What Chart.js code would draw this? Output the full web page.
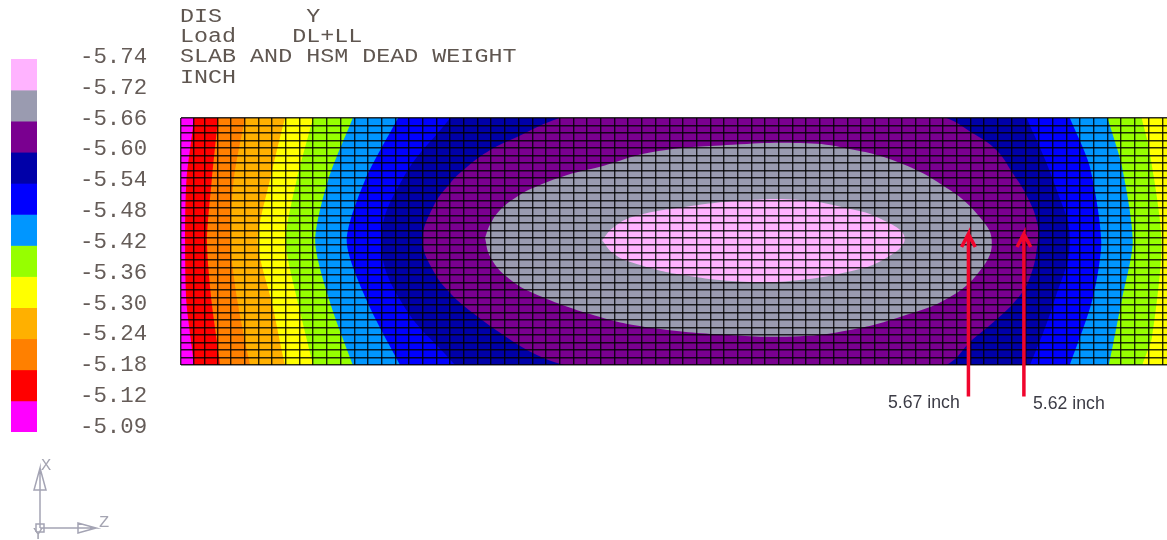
<!DOCTYPE html>
<html><head><meta charset="utf-8">
<script src="https://cdn.jsdelivr.net/npm/chart.js@4/dist/chart.umd.js"></script>
<style>
html,body{margin:0;padding:0;background:#fff;width:1167px;height:540px;overflow:hidden}
canvas{position:absolute;left:0;top:0}
.t{position:absolute;white-space:pre;transform-origin:0 0}
.head{font:20px "Liberation Mono",monospace;color:#5f5650;left:180px;transform:scaleX(1.168)}
.note{font:17.7px "Liberation Sans",Arial,sans-serif;color:#3c3c46}
.tri{font:17px "Liberation Mono",monospace;color:#a5a5b2}
</style></head><body>
<div style="position:absolute;left:0;top:0;width:1167px;height:540px"><canvas id="main"></canvas></div>
<div style="position:absolute;left:0;top:0;width:1167px;height:540px"><canvas id="callouts"></canvas></div>
<div style="position:absolute;left:0;top:0;width:170px;height:540px"><canvas id="key"></canvas></div>
<div style="position:absolute;left:0;top:440px;width:130px;height:100px"><canvas id="triad"></canvas></div>
<div class="t head" style="top:5px">DIS      Y</div>
<div class="t head" style="top:25px">Load    DL+LL</div>
<div class="t head" style="top:45px">SLAB AND HSM DEAD WEIGHT</div>
<div class="t head" style="top:66px">INCH</div>
<div class="t note" style="left:888px;top:392px">5.67 inch</div>
<div class="t note" style="left:1033px;top:393px">5.62 inch</div>
<div class="t tri" style="left:41px;top:456px">X</div>
<div class="t tri" style="left:99px;top:513px">Z</div>
<div class="t tri" style="left:33px;top:525px">Y</div>
<script>
// Colour key
const keyLabels = ['-5.74','-5.72','-5.66','-5.60','-5.54','-5.48','-5.42','-5.36','-5.30','-5.24','-5.18','-5.12','-5.09'];
const keyColors = ['#ffb3ff','#9a9bb0','#7a0090','#0000a8','#0000ff','#0096ff','#96ff00','#ffff00','#ffb000','#ff8000','#ff0000','#ff00ff'];

// Span and width of the slab, in contour units
const spanCols = 72;
const widthRows = 36;
// Mesh: the first lines along the span are uneven, then cells repeat
const meshFirstLines = [0, 0.95, 1.7];
const meshRegularFrom = 2.65;
const meshWidthCells = 33;

// Contour outlines [column,row], outermost band first
const redEdge = [[0.95,38],[0.95,36],[0.4,27],[0.3,18],[0.4,9],[0.95,0],[0.95,-2],[76,-2],[76,38],[0.95,38]];
const darkOrangeEdge = [[2.7,38],[2.7,36],[2.25,27],[1.9,18],[2.25,9],[2.85,0],[2.85,-2],[76,-2],[76,38],[2.7,38]];
const orangeEdge = [[5.1,38],[4.7,36],[3.85,27],[3.6,18],[4.15,9],[5.05,0],[5.4,-2],[76,-2],[76,38],[5.1,38]];
const yellowEdge = [[8,38],[7.6,36],[6.5,27],[5.6,18],[6.65,9],[7.6,0],[8,-2],[76,-2],[76,38],[8,38]];
const greenEdge = [[9.9,38],[9.65,36],[8.45,27],[7.65,18],[8.55,9],[9.65,0],[9.9,-2],[70,-2],[70.2,0],[70.9,4.0],[71.6,18],[70.7,31.5],[70.15,36],[70,38],[9.9,38]];
const lightBlueEdge = [[13,38],[12.55,36],[10.75,27],[9.8,18],[10.9,9],[12.55,0],[13,-2],[67.4,-2],[67.75,0],[68.7,9.5],[69.5,18],[68.7,29],[67.65,36],[67.3,38],[13,38]];
const blueEdge = [[16.4,38],[15.85,36],[13.45,27],[12.1,18],[13.65,9],[16,0],[16.6,-2],[64.4,-2],[64.9,0],[66.55,9.5],[67.2,18],[66.35,29],[64.9,36],[64.4,38],[16.4,38]];
const darkBlueEdge = [[20.4,38],[19.65,36],[16.15,27],[14.65,18],[16.15,9],[20,0],[20.8,-2],[61.4,-2],[62,0],[63.8,9.5],[64.9,18],[63.95,25.5],[61.75,36],[61.2,38],[20.4,38]];
const purpleEdge = [[31,37.4],[27.65,36],[24.5,33.2],[22.55,31.3],[20.9,28.9],[19.65,26.5],[18.4,23],[17.65,18.2],[18.4,13.8],[19.65,10.5],[21.3,7.6],[23.3,4.7],[25.7,1.75],[28,0],[31,-1.2],[53,-1.2],[55.9,0],[57.8,3.7],[59.3,6.2],[61,9.5],[62,12.8],[62.55,17.8],[62.5,20.9],[61.75,24.7],[60.75,27.9],[59.55,31.3],[57.8,33.8],[55.9,36],[53,37.4],[31,37.4]];
const grayEdge = [[22.2,18.5],[22.55,20.4],[23.3,22.6],[24.5,24.5],[25.7,25.8],[28.2,27.7],[30.6,28.9],[34.45,31.05],[40.3,32.1],[45.2,32.35],[48.3,31.7],[52.5,29.45],[56.15,25.5],[58.3,21.6],[59.2,18.2],[58.55,14.3],[56.15,9.9],[52.5,7],[48.85,5.1],[45.2,4.2],[40.3,4.35],[34.45,5.4],[30.6,7],[25.7,10.5],[23.7,13],[22.55,15.9],[22.2,18.5]];
const pinkEdge = [[30.75,18.2],[31.55,20],[33,21.6],[36.65,23],[41.55,24.05],[45.2,24.05],[48.3,23],[51,21.4],[52.85,18.5],[51.25,15.3],[48.3,13.4],[45.2,12.4],[41.55,12.1],[36.65,13.1],[33,14.9],[31.55,16.3],[30.75,18.2]];

const slabOutline = [[-2,38],[-2,-2],[76,-2],[76,38],[-2,38]];
const bands = [
  [slabOutline, 11],[redEdge, 10],[darkOrangeEdge, 9],[orangeEdge, 8],[yellowEdge, 7],
  [greenEdge, 6],[lightBlueEdge, 5],[blueEdge, 4],[darkBlueEdge, 3],[purpleEdge, 2],
  [grayEdge, 1],[pinkEdge, 0]
];

// Callout arrows
const arrowA = [[57.5,-4.6],[57.5,19.1],[57.0,17.2],[57.5,19.1],[58.0,17.2]];
const arrowB = [[61.55,-4.6],[61.55,19.1],[61.05,17.2],[61.55,19.1],[62.05,17.2]];

// Global axis triad
const triadX = [[40,12],[40,72],[34,50],[46,50],[40,72]];
const triadZ = [[40,12],[96,12],[78,17],[78,7],[96,12]];
const triadOrigin = [[36,8],[44,8],[44,16],[36,16],[36,8]];

const pts = a => a.map(p => ({x:p[0], y:p[1]}));
const plotPadding = {left:181,top:118,right:0,bottom:175};

const bandSets = bands.map((b,i) => ({
  data: pts(b[0]), showLine:true, fill:'shape', backgroundColor:keyColors[b[1]],
  borderWidth:0, borderColor:keyColors[b[1]], pointRadius:0, tension:i<8?0.25:0.42,
  capBezierPoints:false, order:100-i
}));

new Chart(document.getElementById('main'), {
  type:'scatter',
  data:{datasets:bandSets},
  options:{
    responsive:true, maintainAspectRatio:false, animation:false,
    layout:{padding:plotPadding},
    plugins:{legend:{display:false},tooltip:{enabled:false}},
    scales:{
      x:{type:'linear',min:0,max:spanCols,
        afterBuildTicks:s=>{
          const t = meshFirstLines.map(v=>({value:v}));
          for (let v = meshRegularFrom; v < spanCols; v += 1) t.push({value:v});
          s.ticks = t;
        },
        ticks:{display:false,autoSkip:false},
        grid:{color:'rgba(0,0,0,.82)',lineWidth:1.4,drawTicks:false,z:1},
        border:{display:false}},
      y:{type:'linear',display:false,min:0,max:widthRows},
      m:{type:'linear',position:'left',min:0,max:meshWidthCells,
        ticks:{display:false,stepSize:1,autoSkip:false},
        grid:{color:'rgba(0,0,0,.82)',lineWidth:1.5,drawTicks:false,z:1},
        border:{display:false}}
    }
  }
});

new Chart(document.getElementById('callouts'), {
  type:'scatter',
  data:{datasets:[arrowA, arrowB].map(a => ({
    data: pts(a), showLine:true, fill:false, borderColor:'#f0052d', borderWidth:3.5,
    pointRadius:0, tension:0, clip:false
  }))},
  options:{
    responsive:true, maintainAspectRatio:false, animation:false,
    layout:{padding:plotPadding},
    plugins:{legend:{display:false},tooltip:{enabled:false}},
    scales:{
      x:{type:'linear',display:false,min:0,max:spanCols},
      y:{type:'linear',display:false,min:0,max:widthRows}
    }
  }
});

new Chart(document.getElementById('key'), {
  type:'bar',
  data:{labels:[''],datasets:keyColors.map(c => ({data:[1],backgroundColor:c,borderWidth:0,barPercentage:1,categoryPercentage:1,stack:'k'}))},
  options:{
    responsive:true, maintainAspectRatio:false, animation:false,
    layout:{padding:{left:11,top:59,right:0,bottom:108}},
    plugins:{legend:{display:false},tooltip:{enabled:false}},
    scales:{
      x:{display:false,stacked:true},
      y:{display:false,stacked:true,reverse:true,min:0,max:keyColors.length},
      k:{type:'linear',position:'right',reverse:true,min:0.065,max:12.16,
        afterFit:s=>{s.width=133},
        afterBuildTicks:s=>{s.ticks=keyLabels.map((l,i)=>({value:i}))},
        grid:{display:false,drawTicks:false},border:{display:false},
        ticks:{autoSkip:false,padding:43,color:'#655c58',
          font:{family:'"Liberation Mono",monospace',size:22.4},
          callback:(v,i)=>keyLabels[i]}}
    }
  }
});

const triadSet = (a) => ({data:pts(a),showLine:true,fill:false,borderColor:'#a4a4b4',borderWidth:1.5,pointRadius:0,tension:0});
new Chart(document.getElementById('triad'), {
  type:'scatter',
  data:{datasets:[triadSet(triadX),triadSet(triadZ),triadSet(triadOrigin)]},
  options:{
    responsive:true, maintainAspectRatio:false, animation:false,
    layout:{padding:0},
    plugins:{legend:{display:false},tooltip:{enabled:false}},
    scales:{x:{display:false,min:0,max:130},y:{display:false,min:0,max:100}}
  }
});
</script>
</body></html>
